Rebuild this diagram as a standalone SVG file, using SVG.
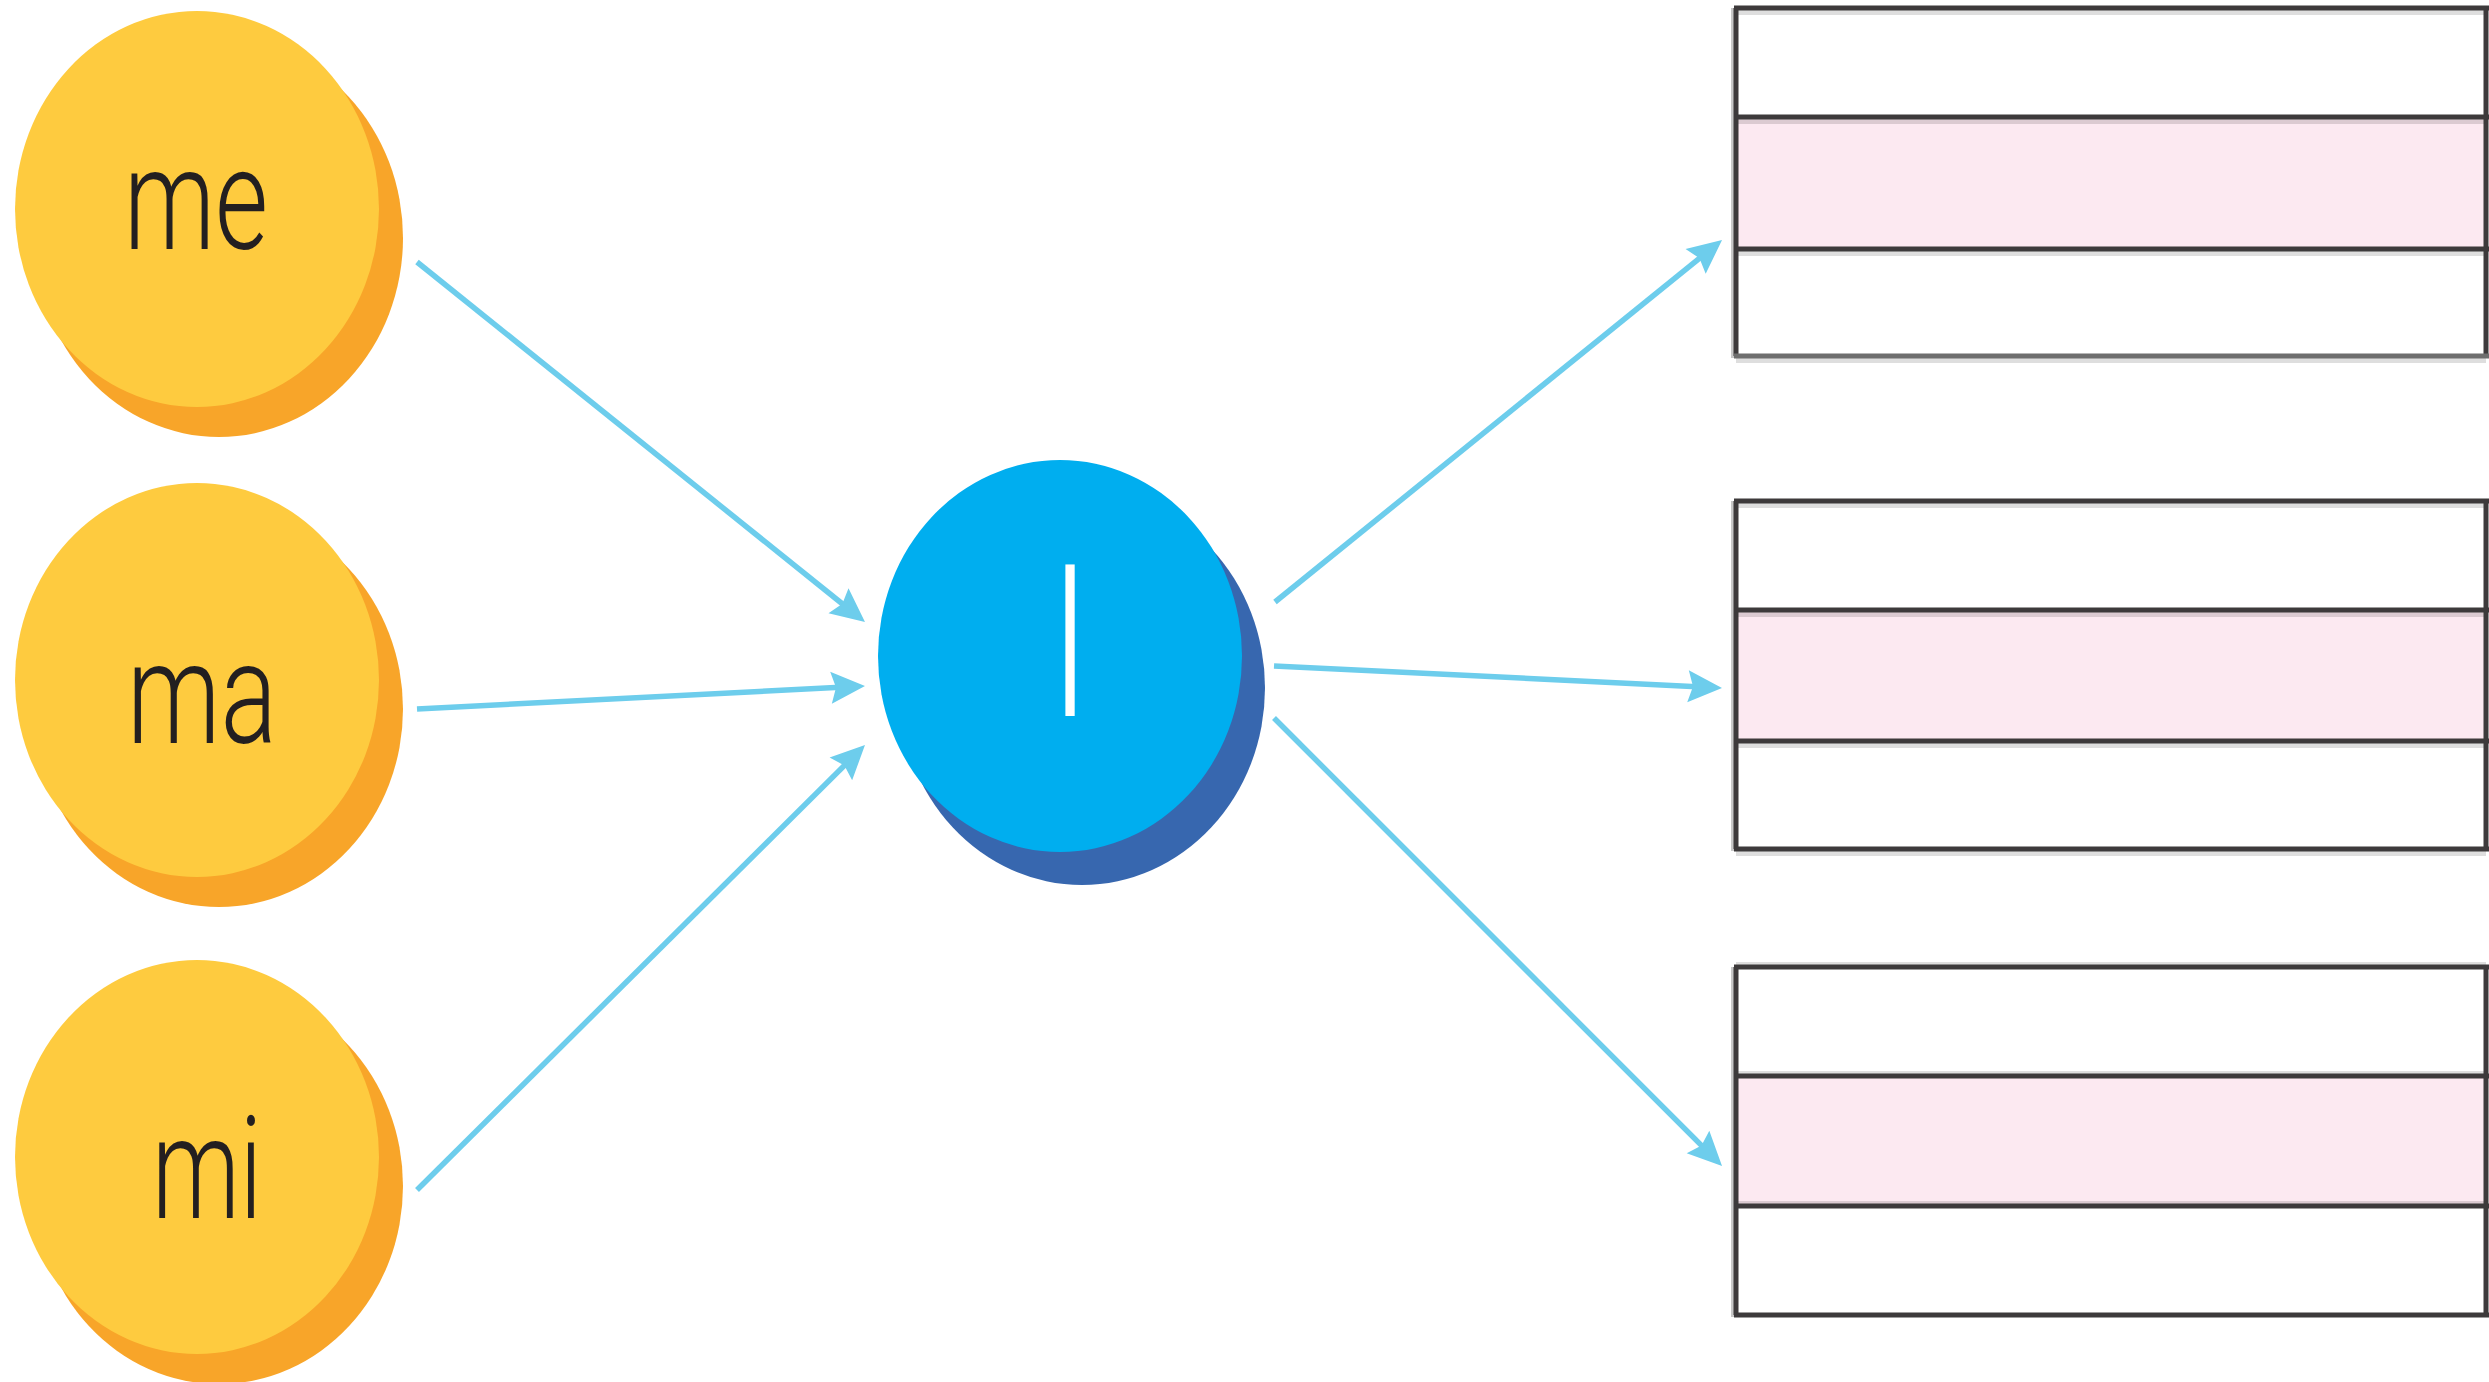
<svg xmlns="http://www.w3.org/2000/svg" width="2489" height="1382" viewBox="0 0 2489 1382">
<style>
.bg{fill:#ffffff}
.yel{fill:#FECB3F}
.yel-sh{fill:#F8A529}
.blu{fill:#00AEEF}
.blu-sh{fill:#3767AF}
.lbl{font-family:Roboto,"Liberation Sans",sans-serif;font-weight:300;font-size:142px;fill:#231F20}
.lbl-w{font-family:Roboto,"Liberation Sans",sans-serif;font-weight:100;font-size:196px;fill:#ffffff;stroke:#ffffff;stroke-width:4}
.conn{stroke:#6DCDEC;stroke-width:5.5;fill:none;marker-end:url(#ah)}
.line{stroke:#3D3A3B;stroke-width:5}
.shade{fill:#000000;opacity:0.13}
.pink{fill:#FCE9F1}
.cell{fill:#ffffff}
</style>
<defs>
<marker id="ah" markerUnits="userSpaceOnUse" markerWidth="40" markerHeight="40" refX="14" refY="0" orient="auto" overflow="visible">
<path d="M34,0 L0,-16 L5,0 L0,16 Z" fill="#6DCDEC"/>
</marker>
</defs>
<rect class="bg" x="0" y="0" width="2489" height="1382"/>

<g id="node-me">
<ellipse class="yel-sh" cx="219" cy="238" rx="184" ry="199"/>
<ellipse class="yel" cx="197" cy="209" rx="182" ry="198"/>
<text class="lbl" x="124" y="249" textLength="144" lengthAdjust="spacingAndGlyphs">me</text>
</g>

<g id="node-ma">
<ellipse class="yel-sh" cx="219" cy="709" rx="184" ry="198"/>
<ellipse class="yel" cx="197" cy="680" rx="182" ry="197"/>
<text class="lbl" x="127" y="743" textLength="150" lengthAdjust="spacingAndGlyphs">ma</text>
</g>

<g id="node-mi">
<ellipse class="yel-sh" cx="219" cy="1186" rx="184" ry="198"/>
<ellipse class="yel" cx="197" cy="1157" rx="182" ry="197"/>
<text class="lbl" x="152" y="1218" textLength="110" lengthAdjust="spacingAndGlyphs">mi</text>
</g>

<g id="node-l">
<ellipse class="blu-sh" cx="1082" cy="688" rx="183" ry="197"/>
<ellipse class="blu" cx="1060" cy="656" rx="182" ry="196"/>
<text class="lbl-w" x="1070" y="714" text-anchor="middle">l</text>
</g>

<g id="box-1">
<rect class="cell" x="1736" y="8" width="750" height="348"/>
<rect class="pink" x="1736" y="117" width="750" height="132"/>
<rect x="1731" y="8" width="4" height="350" fill="#c8c8c8"/>
<rect class="shade" x="1736" y="10" width="750" height="5"/>
<rect class="shade" x="1736" y="119" width="750" height="5"/>
<rect class="shade" x="1736" y="251" width="750" height="5"/>
<rect class="shade" x="1736" y="358" width="750" height="5"/>
<line class="line" x1="1736" y1="8" x2="1736" y2="356"/>
<line class="line" x1="2486" y1="8" x2="2486" y2="356"/>
<line class="line" x1="1734" y1="8" x2="2489" y2="8"/>
<line class="line" x1="1734" y1="117" x2="2489" y2="117"/>
<line class="line" x1="1734" y1="249" x2="2489" y2="249"/>
<line class="line" x1="1734" y1="356" x2="2489" y2="356" style="stroke:#6e6e6e"/>
</g>

<g id="box-2">
<rect class="cell" x="1736" y="501" width="750" height="348"/>
<rect class="pink" x="1736" y="610" width="750" height="131"/>
<rect x="1731" y="501" width="4" height="350" fill="#c8c8c8"/>
<rect class="shade" x="1736" y="503" width="750" height="5"/>
<rect class="shade" x="1736" y="612" width="750" height="5"/>
<rect class="shade" x="1736" y="743" width="750" height="5"/>
<rect class="shade" x="1736" y="851" width="750" height="5"/>
<line class="line" x1="1736" y1="501" x2="1736" y2="849"/>
<line class="line" x1="2486" y1="501" x2="2486" y2="849"/>
<line class="line" x1="1734" y1="501" x2="2489" y2="501"/>
<line class="line" x1="1734" y1="610" x2="2489" y2="610"/>
<line class="line" x1="1734" y1="741" x2="2489" y2="741"/>
<line class="line" x1="1734" y1="849" x2="2489" y2="849"/>
</g>

<g id="box-3">
<rect class="cell" x="1736" y="967" width="750" height="348"/>
<rect class="pink" x="1736" y="1076" width="750" height="130"/>
<rect x="1731" y="967" width="4" height="350" fill="#c8c8c8"/>
<rect class="shade" x="1736" y="962" width="750" height="4"/>
<rect class="shade" x="1736" y="1071" width="750" height="4"/>
<rect class="shade" x="1736" y="1201" width="750" height="4"/>
<line class="line" x1="1736" y1="967" x2="1736" y2="1315"/>
<line class="line" x1="2486" y1="967" x2="2486" y2="1315"/>
<line class="line" x1="1734" y1="967" x2="2489" y2="967"/>
<line class="line" x1="1734" y1="1076" x2="2489" y2="1076"/>
<line class="line" x1="1734" y1="1206" x2="2489" y2="1206"/>
<line class="line" x1="1734" y1="1315" x2="2489" y2="1315"/>
</g>

<g id="connectors">
<line class="conn" x1="417" y1="262" x2="849.4" y2="609.5"/>
<line class="conn" x1="417" y1="709" x2="845" y2="687"/>
<line class="conn" x1="417" y1="1190" x2="850.8" y2="759.1"/>
<line class="conn" x1="1275" y1="602" x2="1706.5" y2="252.6"/>
<line class="conn" x1="1274" y1="666" x2="1702" y2="687"/>
<line class="conn" x1="1274" y1="718" x2="1707.9" y2="1151.9"/>
</g>
</svg>
